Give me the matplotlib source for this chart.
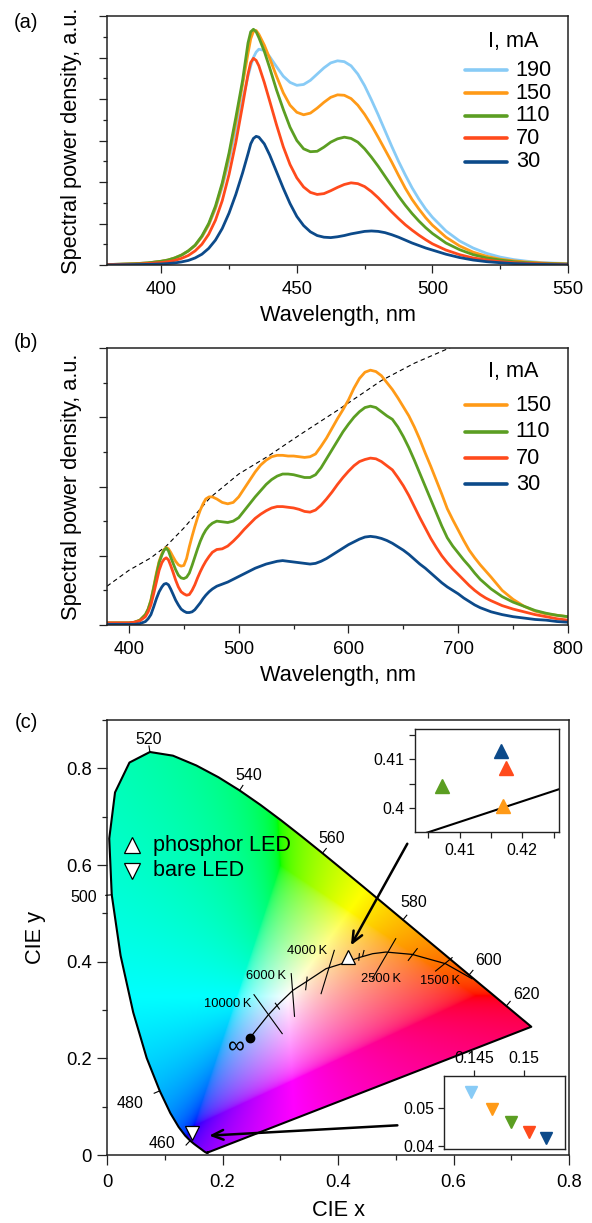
import numpy as np
import matplotlib
matplotlib.use('Agg')
import matplotlib.pyplot as plt
from matplotlib.patches import Polygon
from matplotlib.ticker import MultipleLocator, FuncFormatter

plt.rcParams['font.family'] = ['Liberation Sans', 'DejaVu Sans']

# ---------------- data: panel (a) ----------------
wl_a = [380, 385, 390, 395, 400, 402.5, 405, 407.5, 410, 412.5, 415, 417.5, 420, 422.5, 425, 427.5,
        430, 432, 433, 434, 435, 436, 438, 440, 442.5, 445, 447.5, 450, 452.5, 455, 457.5, 460, 462.5, 465,
        467.5, 470, 472.5, 475, 477.5, 480, 482.5, 485, 487.5, 490, 492.5, 495, 497.5, 500, 505,
        510, 515, 520, 525, 530, 535, 540, 545, 550]
spd_a_190 = [0.01, 0.02, 0.03, 0.05, 0.09, 0.12, 0.17, 0.24, 0.34, 0.47, 0.68, 0.96, 1.36, 1.88, 2.52, 3.25,
             3.98, 4.55, 4.80, 5.00, 5.13, 5.20, 5.17, 5.02, 4.78, 4.55, 4.40, 4.33, 4.35, 4.45, 4.60, 4.75, 4.87, 4.92,
             4.90, 4.80, 4.60, 4.32, 3.98, 3.62, 3.24, 2.86, 2.50, 2.17, 1.86, 1.59, 1.35, 1.15, 0.82,
             0.58, 0.41, 0.28, 0.19, 0.13, 0.09, 0.06, 0.045, 0.035]
spd_a_150 = [0.01, 0.02, 0.03, 0.05, 0.09, 0.12, 0.17, 0.24, 0.34, 0.47, 0.68, 0.97, 1.38, 1.93, 2.63, 3.45,
             4.35, 5.10, 5.45, 5.63, 5.65, 5.56, 5.30, 4.98, 4.55, 4.15, 3.85, 3.68, 3.62, 3.66, 3.78, 3.92, 4.04, 4.10,
             4.09, 4.01, 3.85, 3.63, 3.37, 3.08, 2.78, 2.48, 2.16, 1.85, 1.58, 1.35, 1.14, 0.96, 0.67,
             0.46, 0.31, 0.21, 0.14, 0.10, 0.07, 0.05, 0.035, 0.025]
spd_a_110 = [0.01, 0.02, 0.03, 0.05, 0.09, 0.12, 0.17, 0.24, 0.34, 0.48, 0.70, 1.00, 1.42, 1.98, 2.70, 3.55,
             4.45, 5.35, 5.62, 5.68, 5.62, 5.48, 5.15, 4.75, 4.22, 3.75, 3.32, 3.00, 2.80, 2.73, 2.74, 2.84, 2.96, 3.04,
             3.08, 3.05, 2.96, 2.80, 2.60, 2.38, 2.14, 1.90, 1.66, 1.44, 1.24, 1.06, 0.90, 0.76, 0.53,
             0.37, 0.25, 0.17, 0.12, 0.08, 0.055, 0.04, 0.03, 0.02]
spd_a_70 = [0.01, 0.015, 0.02, 0.035, 0.06, 0.08, 0.11, 0.16, 0.23, 0.34, 0.50, 0.74, 1.08, 1.55, 2.18, 2.95,
            3.85, 4.60, 4.88, 4.98, 4.93, 4.80, 4.40, 3.95, 3.38, 2.85, 2.42, 2.10, 1.88, 1.75, 1.70, 1.72, 1.79, 1.87,
            1.94, 1.98, 1.96, 1.89, 1.77, 1.62, 1.45, 1.28, 1.12, 0.97, 0.84, 0.72, 0.61, 0.51, 0.36,
            0.25, 0.17, 0.12, 0.08, 0.055, 0.04, 0.03, 0.02, 0.015]
spd_a_30 = [0.0, 0.005, 0.01, 0.015, 0.025, 0.035, 0.05, 0.075, 0.11, 0.17, 0.26, 0.40, 0.60, 0.88, 1.25, 1.70,
            2.22, 2.68, 2.92, 3.05, 3.10, 3.08, 2.92, 2.65, 2.25, 1.85, 1.48, 1.17, 0.95, 0.80, 0.71, 0.67, 0.66, 0.68,
            0.71, 0.75, 0.78, 0.81, 0.82, 0.81, 0.78, 0.73, 0.67, 0.60, 0.53, 0.47, 0.41, 0.36, 0.26,
            0.18, 0.12, 0.08, 0.055, 0.035, 0.025, 0.015, 0.01, 0.005]
currents_a = ['190', '150', '110', '70', '30']

# ---------------- data: panel (b) ----------------
wl_b = [380, 390, 400, 405, 410, 415, 417.5, 420, 422.5, 425, 427.5, 430, 432, 434, 436, 438, 440,
        442.5, 445, 447.5, 450, 452.5, 455, 457.5, 460, 462.5, 465, 467.5, 470, 473, 476, 480,
        485, 490, 495, 500, 505, 510, 515, 520, 525, 530,
        535, 540, 545, 550, 555, 560, 565, 570, 575, 580,
        585, 590, 595, 600, 605, 610, 615, 620, 625, 630,
        635, 640, 645, 650, 655, 660, 665, 670, 675, 680,
        685, 690, 695, 700, 705, 710, 715, 720, 725, 730,
        740, 750, 760, 770, 780, 790, 800]
spd_b_150 = [0.03, 0.03, 0.03, 0.04, 0.07, 0.15, 0.23, 0.36, 0.55, 0.75, 0.92, 1.03, 1.09, 1.12, 1.10, 1.05, 0.99,
             0.92, 0.87, 0.85, 0.86, 0.96, 1.13, 1.28, 1.42, 1.55, 1.66, 1.75, 1.82, 1.85, 1.85, 1.82,
             1.77, 1.75, 1.77, 1.85, 1.97, 2.09, 2.21, 2.31, 2.38, 2.43,
             2.45, 2.45, 2.44, 2.44, 2.43, 2.42, 2.43, 2.47, 2.58, 2.70,
             2.84, 2.98, 3.11, 3.25, 3.42, 3.56, 3.65, 3.68, 3.66, 3.60,
             3.50, 3.40, 3.28, 3.15, 3.02, 2.86, 2.68, 2.48, 2.29, 2.09,
             1.89, 1.68, 1.52, 1.37, 1.22, 1.08, 0.97, 0.87, 0.78, 0.69,
             0.50, 0.37, 0.27, 0.20, 0.16, 0.14, 0.12]
spd_b_110 = [0.03, 0.03, 0.03, 0.04, 0.07, 0.15, 0.23, 0.35, 0.53, 0.72, 0.90, 1.01, 1.08, 1.11, 1.07, 0.98, 0.90,
             0.80, 0.72, 0.68, 0.67, 0.69, 0.75, 0.86, 0.98, 1.10, 1.21, 1.30, 1.37, 1.43, 1.47, 1.50,
             1.49, 1.48, 1.50, 1.55, 1.65, 1.75, 1.85, 1.94, 2.03, 2.10,
             2.15, 2.18, 2.18, 2.17, 2.15, 2.13, 2.13, 2.17, 2.27, 2.40,
             2.53, 2.66, 2.79, 2.90, 3.00, 3.08, 3.14, 3.16, 3.14, 3.08,
             3.02, 2.97, 2.86, 2.72, 2.56, 2.38, 2.19, 2.00, 1.81, 1.62,
             1.43, 1.26, 1.14, 1.04, 0.94, 0.85, 0.75, 0.66, 0.59, 0.52,
             0.41, 0.33, 0.27, 0.21, 0.17, 0.14, 0.12]
spd_b_70 = [0.03, 0.03, 0.03, 0.04, 0.06, 0.12, 0.19, 0.29, 0.45, 0.62, 0.79, 0.90, 0.95, 0.97, 0.94, 0.86, 0.77,
            0.65, 0.55, 0.48, 0.45, 0.43, 0.44, 0.50, 0.58, 0.68, 0.77, 0.85, 0.92, 0.99, 1.05, 1.09,
            1.10, 1.14, 1.21, 1.29, 1.38, 1.46, 1.54, 1.60, 1.65, 1.69,
            1.71, 1.71, 1.70, 1.69, 1.67, 1.64, 1.63, 1.66, 1.73, 1.82,
            1.92, 2.03, 2.13, 2.22, 2.30, 2.36, 2.39, 2.41, 2.40, 2.36,
            2.30, 2.24, 2.13, 2.01, 1.87, 1.71, 1.55, 1.40, 1.25, 1.12,
            1.00, 0.90, 0.81, 0.73, 0.65, 0.57, 0.50, 0.44, 0.39, 0.35,
            0.28, 0.23, 0.19, 0.15, 0.12, 0.09, 0.07]
spd_b_30 = [0.01, 0.01, 0.01, 0.01, 0.02, 0.05, 0.09, 0.15, 0.26, 0.38, 0.48, 0.55, 0.59, 0.60, 0.58, 0.52, 0.45,
            0.36, 0.29, 0.23, 0.20, 0.18, 0.18, 0.19, 0.22, 0.27, 0.32, 0.38, 0.43, 0.48, 0.52, 0.56,
            0.59, 0.62, 0.66, 0.70, 0.74, 0.78, 0.82, 0.85, 0.88, 0.90,
            0.92, 0.93, 0.92, 0.91, 0.90, 0.89, 0.88, 0.89, 0.92, 0.96,
            1.01, 1.06, 1.11, 1.16, 1.20, 1.24, 1.27, 1.28, 1.27, 1.25,
            1.22, 1.18, 1.13, 1.08, 1.02, 0.95, 0.88, 0.82, 0.75, 0.68,
            0.61, 0.55, 0.50, 0.45, 0.39, 0.34, 0.29, 0.25, 0.22, 0.19,
            0.15, 0.12, 0.10, 0.08, 0.07, 0.05, 0.04]
currents_b = ['150', '110', '70', '30']
wl_dash = [380, 400, 420, 434, 450, 474, 500, 527, 556, 590, 630, 660, 692, 700]
val_dash = [0.56, 0.79, 0.97, 1.14, 1.40, 1.84, 2.18, 2.44, 2.75, 3.10, 3.53, 3.78, 4.00, 4.06]

# ---------------- data: panel (c) ----------------
cie_wl = [380, 385, 390, 395, 400, 405, 410, 415, 420, 425, 430, 435, 440, 445, 450, 455, 460,
          465, 470, 475, 480, 485, 490, 495, 500, 505, 510, 515, 520, 525, 530, 535, 540, 545,
          550, 555, 560, 565, 570, 575, 580, 585, 590, 595, 600, 605, 610, 615, 620, 625, 630,
          635, 640, 645, 650, 655, 660, 665, 670, 675, 680, 690, 700]
cie_x = [0.1741, 0.1740, 0.1738, 0.1736, 0.1733, 0.1730, 0.1726, 0.1721, 0.1714, 0.1703, 0.1689,
         0.1669, 0.1644, 0.1611, 0.1566, 0.1510, 0.1440, 0.1355, 0.1241, 0.1096, 0.0913, 0.0687,
         0.0454, 0.0235, 0.0082, 0.0039, 0.0139, 0.0389, 0.0743, 0.1142, 0.1547, 0.1929, 0.2296,
         0.2658, 0.3016, 0.3373, 0.3731, 0.4087, 0.4441, 0.4788, 0.5125, 0.5448, 0.5752, 0.6029,
         0.6270, 0.6482, 0.6658, 0.6801, 0.6915, 0.7006, 0.7079, 0.7140, 0.7190, 0.7230, 0.7260,
         0.7283, 0.7300, 0.7311, 0.7320, 0.7327, 0.7334, 0.7344, 0.7347]
cie_y = [0.0050, 0.0050, 0.0049, 0.0049, 0.0048, 0.0048, 0.0048, 0.0048, 0.0051, 0.0058, 0.0069,
         0.0086, 0.0109, 0.0138, 0.0177, 0.0227, 0.0297, 0.0399, 0.0578, 0.0868, 0.1327, 0.2007,
         0.2950, 0.4127, 0.5384, 0.6548, 0.7502, 0.8120, 0.8338, 0.8262, 0.8059, 0.7816, 0.7543,
         0.7243, 0.6923, 0.6589, 0.6245, 0.5896, 0.5547, 0.5202, 0.4866, 0.4544, 0.4242, 0.3965,
         0.3725, 0.3514, 0.3340, 0.3197, 0.3083, 0.2993, 0.2920, 0.2859, 0.2809, 0.2770, 0.2740,
         0.2717, 0.2700, 0.2689, 0.2680, 0.2673, 0.2666, 0.2656, 0.2653]
label_wl = [460, 480, 500, 520, 540, 560, 580, 600, 620]

planck_x = [0.248, 0.2787, 0.295, 0.3218, 0.345, 0.3793, 0.405, 0.438, 0.460, 0.483, 0.5287, 0.5862, 0.632]
planck_y = [0.243, 0.289, 0.310, 0.3406, 0.3585, 0.3855, 0.3951, 0.409, 0.4165, 0.4199, 0.4150, 0.3958, 0.3648]
iso_x1 = [0.2545, 0.2915, 0.3190, 0.3465, 0.3936, 0.4370, 0.4450, 0.5000, 0.5372, 0.5976]
iso_y1 = [0.3317, 0.3140, 0.3752, 0.3680, 0.4234, 0.4165, 0.4230, 0.4476, 0.4269, 0.4083]
iso_x2 = [0.3034, 0.2985, 0.3247, 0.3440, 0.3707, 0.4360, 0.4425, 0.4597, 0.5217, 0.5690]
iso_y2 = [0.2511, 0.3020, 0.2869, 0.3420, 0.3338, 0.4030, 0.4110, 0.3648, 0.4027, 0.3806]
cct_labels = ['10000\u2009K', '6000\u2009K', '4000\u2009K', '2500\u2009K', '1500\u2009K']
cct_lx = [0.250, 0.3103, 0.381, 0.4397, 0.5414]
cct_ly = [0.313, 0.3696, 0.4213, 0.3648, 0.3600]
cct_ha = ['right', 'right', 'right', 'left', 'left']

phosphor_xy = (0.417, 0.4105)
bare_xy = (0.1476, 0.0455)

# inset data (CIE x, y per current)
ins1_x = [0.41665, 0.41733, 0.40724, 0.41697]        # 30, 70, 110, 150 mA
ins1_y = [0.4116, 0.40816, 0.40461, 0.40053]
ins1_cur = ['30', '70', '110', '150']
ins2_x = [0.14474, 0.14678, 0.14866, 0.15043, 0.1522]  # 190,150,110,70,30 mA
ins2_y = [0.05418, 0.04958, 0.04616, 0.04355, 0.04198]
ins2_cur = ['190', '150', '110', '70', '30']

colors = {'190': '#88CBF6', '150': '#FF9A17', '110': '#5B9E22', '70': '#FF4A1C', '30': '#0C4A8A'}

# ---------------- figure ----------------
W, H = 592, 1223
fig = plt.figure(figsize=(W / 100, H / 100), dpi=100)

SPC = '#222222'
TL = 13.3
AL = 15.7


def style(ax, maj=5.8, mino=3.2, labelsize=TL, lw=1.1):
    for s in ax.spines.values():
        s.set_linewidth(lw)
        s.set_color(SPC)
    ax.tick_params(which='both', direction='out', width=0.9, color=SPC, labelsize=labelsize, pad=5)
    ax.tick_params(which='major', length=maj)
    ax.tick_params(which='minor', length=mino)


def px_axes(l, t, r, b):
    return [l / W, 1 - b / H, (r - l) / W, (b - t) / H]


def manual_legend(ax, labels, title, ty, ys):
    ax.text(0.8807, ty, title, transform=ax.transAxes, ha='center', va='center', fontsize=15.6)
    for lab, yy in zip(labels, ys):
        ax.plot([0.7766, 0.867], [yy, yy], transform=ax.transAxes, color=colors[lab], lw=2.6,
                solid_capstyle='round')
        ax.text(0.8866, yy, lab, transform=ax.transAxes, ha='left', va='center', fontsize=15.6)


# ---- panel (a)
ax_a = fig.add_axes(px_axes(107, 16, 568, 265))
for lab, sp in zip(currents_a, [spd_a_190, spd_a_150, spd_a_110, spd_a_70, spd_a_30]):
    ax_a.plot(wl_a, sp, color=colors[lab], lw=2.0, solid_joinstyle='round')
ax_a.set_xlim(380, 550)
ax_a.set_ylim(0, 6)
ax_a.xaxis.set_major_locator(MultipleLocator(50))
ax_a.xaxis.set_minor_locator(MultipleLocator(25))
ax_a.yaxis.set_major_locator(MultipleLocator(1))
ax_a.yaxis.set_minor_locator(MultipleLocator(0.5))
ax_a.set_yticklabels([])
style(ax_a)
ax_a.tick_params(axis='x', pad=6)
ax_a.set_xlabel('Wavelength, nm', fontsize=AL, labelpad=5)
ax_a.set_ylabel('Spectral power density, a.u.', fontsize=AL, labelpad=7)
manual_legend(ax_a, currents_a, 'I, mA', 0.8968, [0.7831, 0.6896, 0.5984, 0.5088, 0.4149])
fig.text(14 / W, 1 - 22 / H, '(a)', fontsize=14.5, ha='left', va='center')

# ---- panel (b)
ax_b = fig.add_axes(px_axes(107, 348, 568, 625))
ax_b.plot(wl_dash, val_dash, color='black', lw=0.8, dashes=(4, 3))
for lab, sp in zip(currents_b, [spd_b_150, spd_b_110, spd_b_70, spd_b_30]):
    ax_b.plot(wl_b, sp, color=colors[lab], lw=2.0, solid_joinstyle='round')
ax_b.set_xlim(380, 800)
ax_b.set_ylim(0, 4)
ax_b.xaxis.set_major_locator(MultipleLocator(100))
ax_b.xaxis.set_minor_locator(MultipleLocator(50))
ax_b.yaxis.set_major_locator(MultipleLocator(1))
ax_b.yaxis.set_minor_locator(MultipleLocator(0.5))
ax_b.set_yticklabels([])
style(ax_b)
ax_b.tick_params(axis='x', pad=6)
ax_b.set_xlabel('Wavelength, nm', fontsize=AL, labelpad=5)
ax_b.set_ylabel('Spectral power density, a.u.', fontsize=AL, labelpad=7)
manual_legend(ax_b, currents_b, 'I, mA', 0.9144, [0.7942, 0.6978, 0.6018, 0.5090])
fig.text(14 / W, 1 - 343 / H, '(b)', fontsize=14.5, ha='left', va='center')

# ---- panel (c)
ax_c = fig.add_axes(px_axes(107, 720, 569, 1155))
ax_c.set_xlim(0, 0.8)
ax_c.set_ylim(0, 0.9)

# chromaticity colour field (out-of-gamut colours desaturated towards white)
N = 500
gx = np.linspace(0.0, 0.8, N)
gy = np.linspace(0.001, 0.9, N)
GX, GY = np.meshgrid(gx, gy)
Xc = GX / GY
Yc = np.ones_like(GX)
Zc = (1 - GX - GY) / GY
R = 3.2406 * Xc - 1.5372 * Yc - 0.4986 * Zc
G = -0.9689 * Xc + 1.8758 * Yc + 0.0415 * Zc
B = 0.0557 * Xc - 0.2040 * Yc + 1.0570 * Zc
rgb = np.stack([R, G, B], axis=-1)
mn = np.minimum(rgb.min(axis=-1, keepdims=True), 0)
rgb = rgb - mn
mx = rgb.max(axis=-1, keepdims=True)
mx[mx == 0] = 1
rgb = rgb / mx
rgb = np.where(rgb <= 0.0031308, 12.92 * rgb, 1.055 * np.power(rgb, 1 / 2.4) - 0.055)
rgb = np.clip(rgb, 0, 1)
im = ax_c.imshow(rgb, extent=[0, 0.8, 0.001, 0.9], origin='lower', aspect='auto',
                 interpolation='bilinear', zorder=0)
poly = Polygon(np.column_stack([cie_x, cie_y]), closed=True, transform=ax_c.transData,
               facecolor='none', edgecolor='none')
ax_c.add_patch(poly)
im.set_clip_path(poly)
ax_c.plot(list(cie_x) + [cie_x[0]], list(cie_y) + [cie_y[0]], color='black', lw=1.5, zorder=3,
          solid_joinstyle='round')

# wavelength ticks & labels on the spectral locus
fig.canvas.draw()
label_off = {460: (-20.2, -1.7), 480: (-21.4, -8.8), 500: (-20.2, -2.2), 520: (-0.7, 8.9),
             540: (6.8, 10.8), 560: (6.6, 10.4), 580: (7.9, 12.2), 600: (13.7, 10.5), 620: (14.8, 8.4)}
trans = ax_c.transData
for wl in label_wl:
    i = cie_wl.index(wl)
    p0 = trans.transform((cie_x[i - 1], cie_y[i - 1]))
    p1 = trans.transform((cie_x[i + 1], cie_y[i + 1]))
    d = p1 - p0
    n = np.array([-d[1], d[0]]) / np.hypot(*d)
    pc = trans.transform((cie_x[i], cie_y[i]))
    pe = pc + n * 6
    q0 = trans.inverted().transform(pc)
    q1 = trans.inverted().transform(pe)
    ax_c.plot([q0[0], q1[0]], [q0[1], q1[1]], color='black', lw=0.8, zorder=3, clip_on=False)
    ax_c.annotate(str(wl), (cie_x[i], cie_y[i]), xytext=label_off[wl], textcoords='offset points',
                  ha='center', va='center', fontsize=11.5, annotation_clip=False)

# Planckian locus and isotherms
ax_c.plot(planck_x, planck_y, color='black', lw=0.9, zorder=4)
for x1, y1, x2, y2 in zip(iso_x1, iso_y1, iso_x2, iso_y2):
    ax_c.plot([x1, x2], [y1, y2], color='black', lw=0.8, zorder=4)
for t, lx, ly, ha in zip(cct_labels, cct_lx, cct_ly, cct_ha):
    ax_c.text(lx, ly, t, ha=ha, va='center', fontsize=9.3, zorder=5)
ax_c.plot([planck_x[0]], [planck_y[0]], 'o', color='black', ms=6, zorder=5)
ax_c.text(0.224, 0.2234, '\u221e', ha='center', va='center', fontsize=17, zorder=5)

# markers
ax_c.plot([phosphor_xy[0]], [phosphor_xy[1]], '^', ms=9.5, mfc='white', mec='black', mew=0.9, zorder=6)
ax_c.plot([bare_xy[0]], [bare_xy[1]], 'v', ms=10.5, mfc='white', mec='black', mew=0.9, zorder=6)

# arrows
arrow_kw = dict(arrowstyle='->,head_length=0.8,head_width=0.35', lw=1.8, color='black',
                shrinkA=0, shrinkB=0)
ax_c.annotate('', xy=(0.4224, 0.4337), xytext=(0.52, 0.644), arrowprops=arrow_kw, zorder=6)
ax_c.annotate('', xy=(0.1769, 0.0401), xytext=(0.5028, 0.0614), arrowprops=arrow_kw, zorder=6)

# legend in (c)
ax_c.plot([0.054], [0.7126], '^', transform=ax_c.transAxes, ms=11, mfc='white', mec='black', mew=0.9)
ax_c.plot([0.054], [0.6536], 'v', transform=ax_c.transAxes, ms=11, mfc='white', mec='black', mew=0.9)
ax_c.text(0.0994, 0.7126, 'phosphor LED', transform=ax_c.transAxes, ha='left', va='center', fontsize=15.6)
ax_c.text(0.0994, 0.6536, 'bare LED', transform=ax_c.transAxes, ha='left', va='center', fontsize=15.6)

fmt = FuncFormatter(lambda v, p: '%g' % round(v, 4))
ax_c.xaxis.set_major_locator(MultipleLocator(0.2))
ax_c.xaxis.set_minor_locator(MultipleLocator(0.1))
ax_c.yaxis.set_major_locator(MultipleLocator(0.2))
ax_c.yaxis.set_minor_locator(MultipleLocator(0.1))
ax_c.xaxis.set_major_formatter(fmt)
ax_c.yaxis.set_major_formatter(fmt)
style(ax_c, maj=7.0, mino=3.6)
ax_c.tick_params(axis='x', pad=7)
ax_c.tick_params(axis='y', pad=4)
ax_c.set_xlabel('CIE x', fontsize=AL, labelpad=6)
ax_c.set_ylabel('CIE y', fontsize=AL, labelpad=14)
fig.text(15 / W, 1 - 722 / H, '(c)', fontsize=14.5, ha='left', va='center')

# inset 1 (phosphor LED)
ins1 = fig.add_axes(px_axes(415, 729.3, 559.3, 832.3))
ins1.plot(planck_x, planck_y, color='black', lw=1.5, zorder=1)
for cx, cy, lab in zip(ins1_x, ins1_y, ins1_cur):
    ins1.plot([cx], [cy], '^', ms=9.6, color=colors[lab], mec=colors[lab], zorder=2)
ins1.set_xlim(0.4029, 0.4259)
ins1.set_ylim(0.3951, 0.4161)
ins1.xaxis.set_major_locator(MultipleLocator(0.01))
ins1.xaxis.set_minor_locator(MultipleLocator(0.005))
ins1.yaxis.set_major_locator(MultipleLocator(0.01))
ins1.yaxis.set_minor_locator(MultipleLocator(0.005))
ins1.xaxis.set_major_formatter(fmt)
ins1.yaxis.set_major_formatter(fmt)
style(ins1, maj=4.5, mino=4.5, labelsize=11.4, lw=1.0)
ins1.tick_params(pad=3)

# inset 2 (bare LED)
ins2 = fig.add_axes(px_axes(444.3, 1076, 565, 1149.3))
for cx, cy, lab in zip(ins2_x, ins2_y, ins2_cur):
    ins2.plot([cx], [cy], 'v', ms=8.8, color=colors[lab], mec=colors[lab])
ins2.set_xlim(0.14205, 0.15406)
ins2.set_ylim(0.03905, 0.05834)
ins2.xaxis.set_major_locator(MultipleLocator(0.005))
ins2.yaxis.set_major_locator(MultipleLocator(0.01))
ins2.xaxis.set_major_formatter(fmt)
ins2.yaxis.set_major_formatter(fmt)
ins2.xaxis.tick_top()
style(ins2, maj=4.5, mino=3, labelsize=11.4, lw=1.0)
ins2.tick_params(pad=3)

fig.savefig('out.png', dpi=100)
